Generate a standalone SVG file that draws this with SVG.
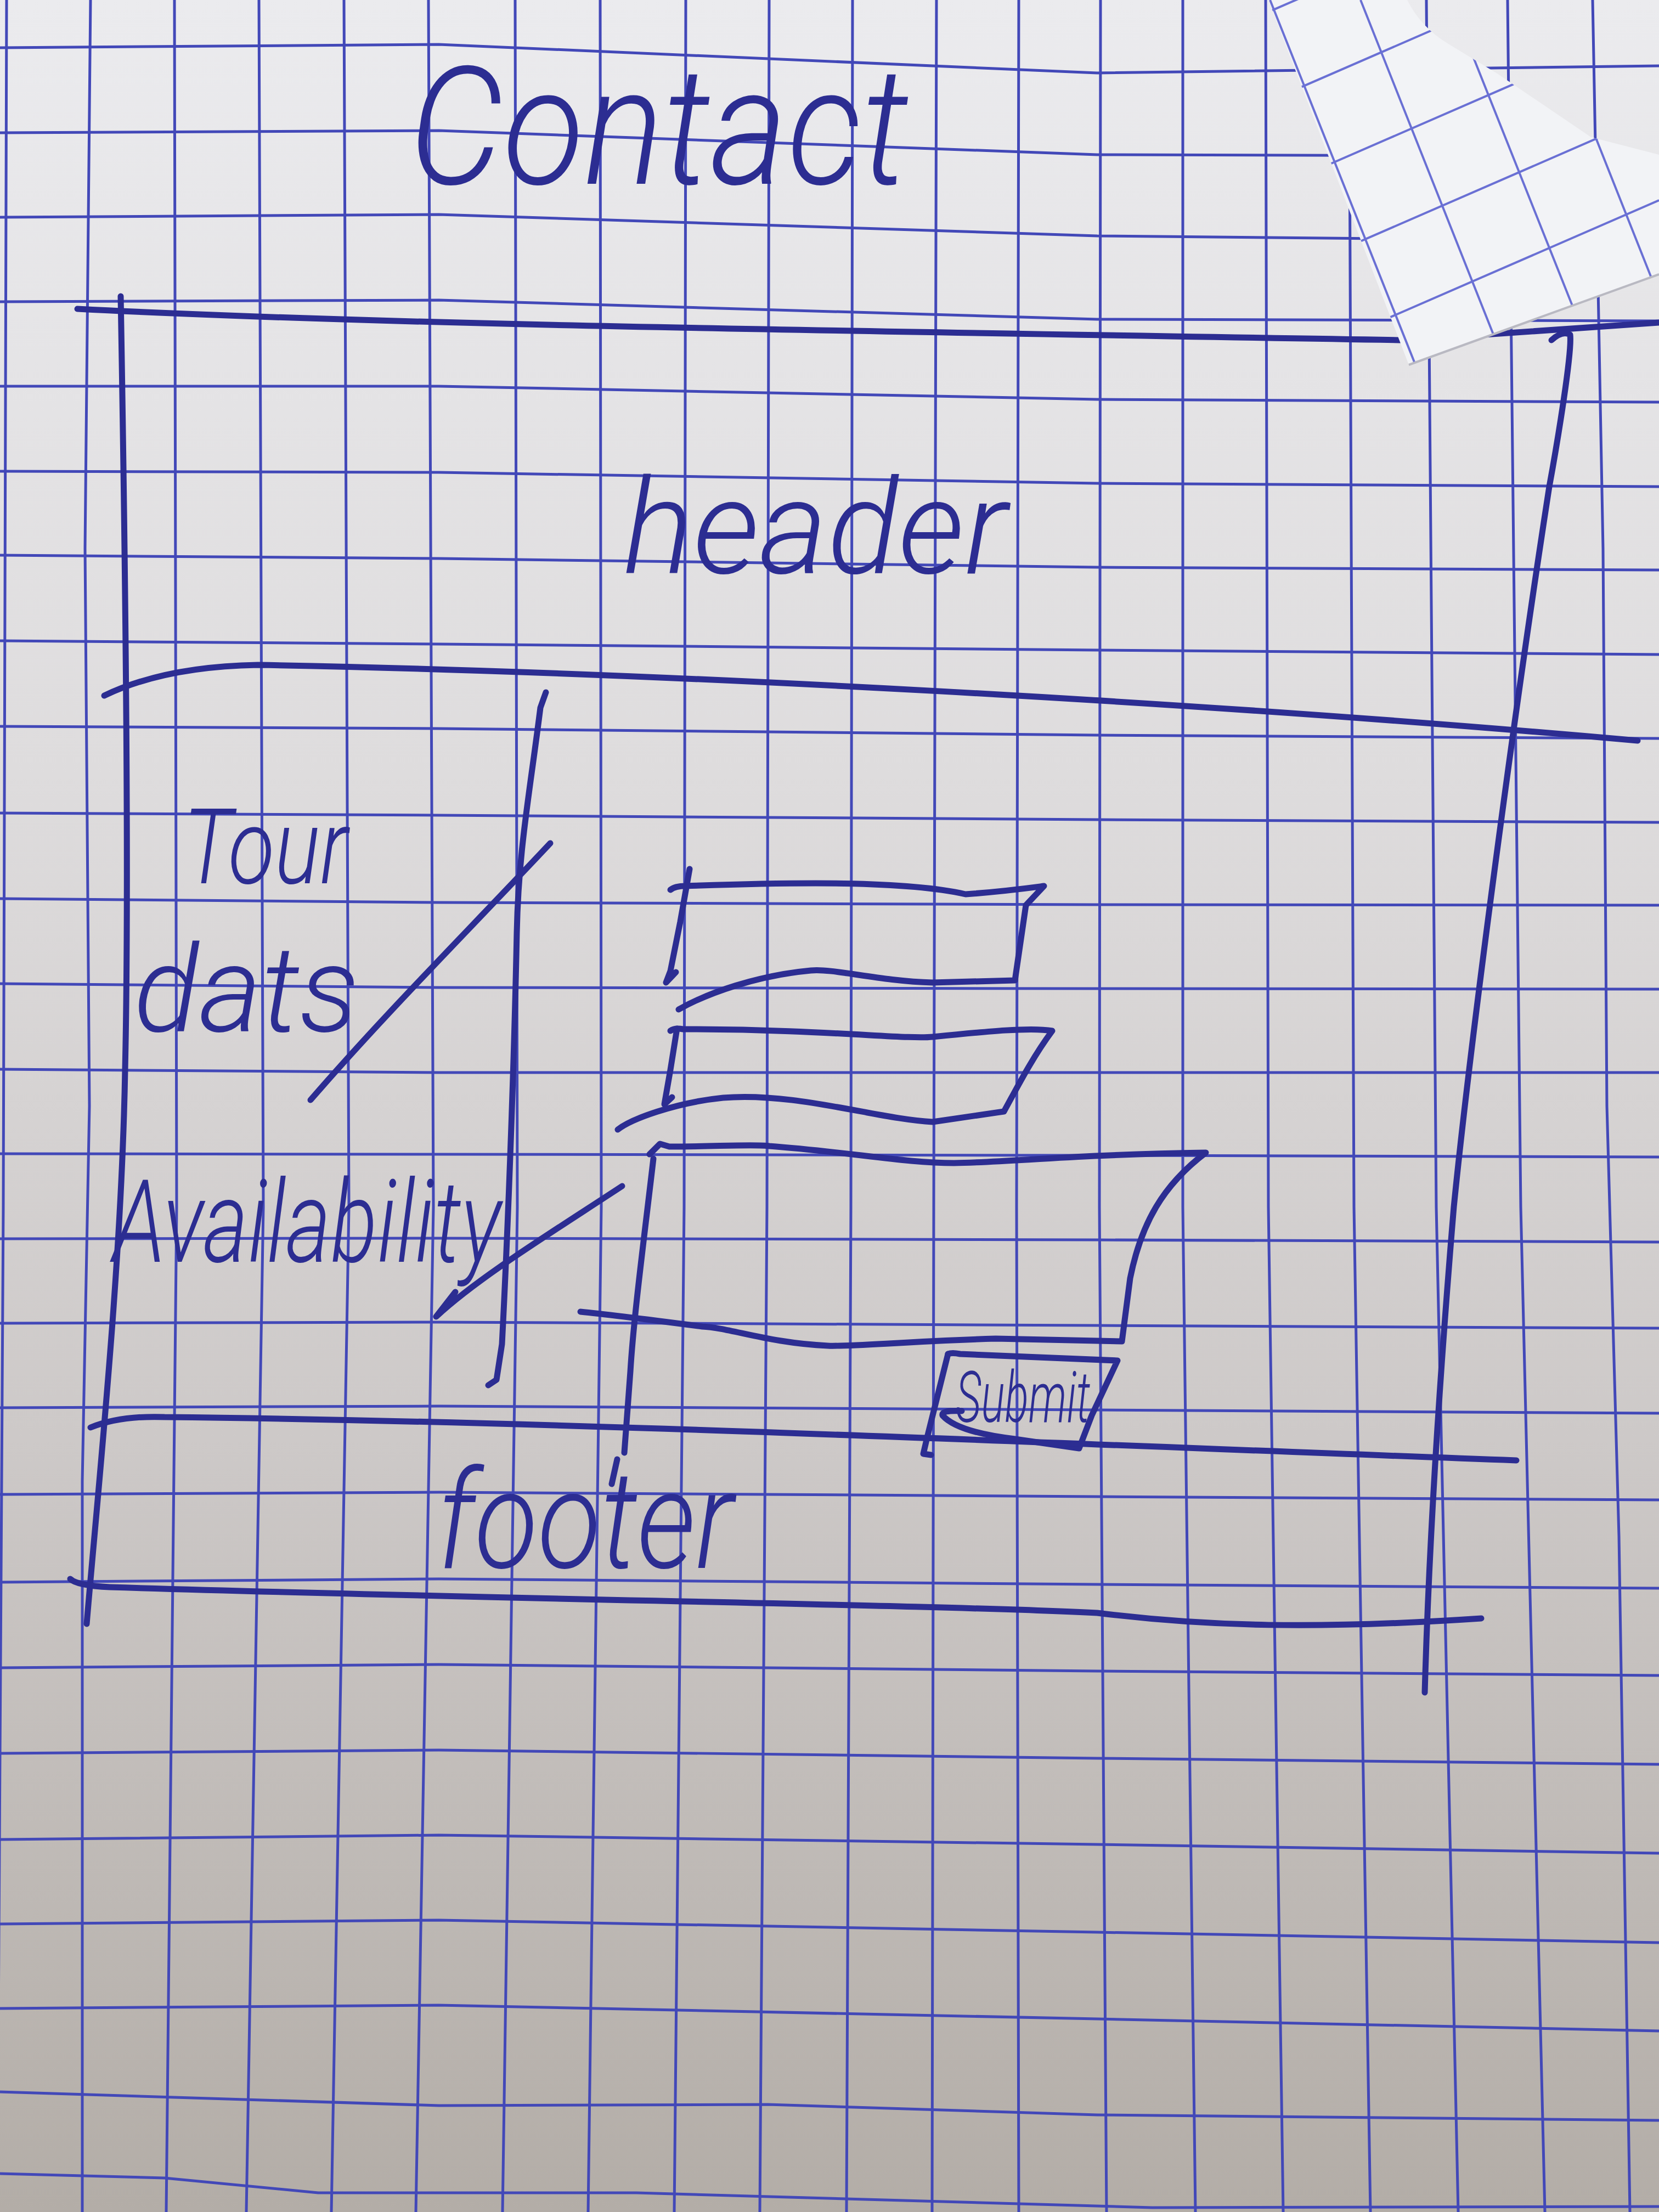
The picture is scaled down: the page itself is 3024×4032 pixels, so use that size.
<svg xmlns="http://www.w3.org/2000/svg" width="3024" height="4032" viewBox="0 0 3024 4032">
<defs>
<linearGradient id="paperGrad" x1="0" y1="0" x2="0" y2="1">
<stop offset="0" stop-color="#ebebee"/>
<stop offset="0.35" stop-color="#dedcdd"/>
<stop offset="0.65" stop-color="#cdc9c8"/>
<stop offset="1" stop-color="#b3ada7"/>
</linearGradient>
<clipPath id="flapClip">
<path d="M2312,0 L2565,0 Q2590,50 2640,80 L2729,134 L2900,250 L3024,282 L3024,500 L2568,665 Z"/>
</clipPath>
<style>
.grid{fill:none;stroke:#4248b8;stroke-width:5}
.flapgrid{fill:none;stroke:#6a70d4;stroke-width:4}
.ink{fill:none;stroke:#2c2d92;stroke-width:11;stroke-linecap:round;stroke-linejoin:round}
.hand{font-family:Roboto,"Liberation Sans",sans-serif;font-style:italic;font-weight:300;fill:#2c2d92}
</style>
</defs>

<g id="paper">
<rect x="0" y="0" width="3024" height="4032" fill="url(#paperGrad)"/>
</g>

<g id="grid">
<path class="grid" d="M0,87 L800,81 L2000,133 L3024,120
M0,242 L800,238 L2000,282 L3024,285
M0,396 L800,391 L2000,430 L3024,440
M0,550 L800,547 L2000,582 L3024,585
M0,704 L800,704 L2000,728 L3024,733
M0,859 L800,861 L2000,881 L3024,887
M0,1012 L800,1018 L2000,1034 L3024,1039
M0,1168 L800,1174 L2000,1185 L3024,1193
M0,1324 L800,1328 L2000,1340 L3024,1346
M0,1482 L800,1486 L2000,1494 L3024,1499
M0,1638 L800,1645 L2000,1649 L3024,1650
M0,1793 L800,1800 L2000,1802 L3024,1803
M0,1949 L800,1955 L2000,1955 L3024,1955
M0,2103 L800,2104 L2000,2106 L3024,2109
M0,2258 L800,2257 L2000,2260 L3024,2264
M0,2412 L800,2410 L2000,2416 L3024,2421
M0,2566 L800,2563 L2000,2570 L3024,2576
M0,2724 L800,2720 L2000,2728 L3024,2734
M0,2884 L800,2878 L2000,2888 L3024,2895
M0,3040 L800,3034 L2000,3046 L3024,3054
M0,3196 L800,3190 L2000,3205 L3024,3216
M0,3353 L800,3345 L2000,3362 L3024,3378
M0,3507 L800,3500 L2000,3522 L3024,3541
M0,3661 L800,3655 L2000,3680 L3024,3702
M0,3813 L800,3838 L1400,3836 L2000,3855 L3024,3865
M0,3962 L300,3970 L580,3997 L1160,3997 L2100,4024 L3024,4022"/>
<path class="grid" d="M12,0 L6,2200 L-5,4032
M165,0 L155,1000 L163,2016 L150,2700 L150,4032
M318,0 L322,2200 L303,4032
M472,0 L480,2200 L449,4032
M627,0 L636,2200 L604,4032
M781,0 L790,2200 L758,4032
M939,0 L943,2200 L916,4032
M1094,0 L1096,2200 L1072,4032
M1250,0 L1247,2200 L1229,4032
M1402,0 L1398,2200 L1385,4032
M1554,0 L1551,2200 L1543,4032
M1707,0 L1702,2200 L1699,4032
M1857,0 L1853,2200 L1857,4032
M2006,0 L2004,2200 L2017,4032
M2156,0 L2156,2200 L2179,4032
M2307,0 L2312,2200 L2339,4032
M2459,0 L2468,2200 L2498,4032
M2600,0 L2618,2200 L2658,4032
M2748,0 L2772,2200 L2816,4032
M2903,0 L2922,1000 L2929,2016 L2951,2800 L2971,4032"/>
</g>

<g id="page-frame">
<path class="ink" d="M141,563 C700,592 1500,602 2560,620 L3024,588"/>
<path class="ink" d="M220,540 C228,1000 236,1600 228,1950 C222,2300 180,2700 158,2960"/>
<path class="ink" d="M2828,620 Q2848,602 2862,610 C2866,640 2840,800 2824,887 C2760,1300 2680,1900 2650,2200 C2625,2500 2605,2800 2597,3085"/>
<path class="ink" d="M128,2878 Q140,2890 200,2893 C900,2915 1700,2925 2000,2940 C2200,2965 2400,2970 2700,2950"/>
</g>

<g id="flap">
<path d="M2312,0 L2565,0 Q2590,50 2640,80 L2729,134 L2900,250 L3024,282 L3024,500 L2568,665 Z" fill="#f2f3f6"/>
<g clip-path="url(#flapClip)">
<path class="flapgrid" d="M2315,0 L2594,700 M2480,0 L2758,700 M2644,0 L2923,700 M2809,0 L3087,700 M2973,0 L3252,700
M2300,27 L3024,-288 M2300,190 L3024,-125 M2300,353 L3024,38 M2300,518 L3024,203 M2300,680 L3024,365 M2300,843 L3024,528"/>
</g>
<path d="M2568,665 L3024,500" fill="none" stroke="#b9b9c2" stroke-width="4"/>
</g>

<g id="title">
<text class="hand" x="746" y="335" font-size="300" textLength="910" lengthAdjust="spacingAndGlyphs">Contact</text>
</g>

<g id="header">
<path class="ink" d="M190,1268 Q300,1215 470,1212 C1200,1225 2200,1280 2985,1350"/>
<text class="hand" x="1136" y="1045" font-size="240" textLength="700" lengthAdjust="spacingAndGlyphs">header</text>
</g>

<g id="sidebar">
<path class="ink" d="M995,1262 L985,1290 C965,1450 945,1550 942,1700 C938,1900 928,2200 915,2450 L905,2515 L890,2525"/>
<text class="hand" x="334" y="1610" font-size="190" textLength="300" lengthAdjust="spacingAndGlyphs">Tour</text>
<text class="hand" x="244" y="1880" font-size="220" textLength="410" lengthAdjust="spacingAndGlyphs">dats</text>
<text class="hand" x="206" y="2300" font-size="210" textLength="707" lengthAdjust="spacingAndGlyphs">Availability</text>
</g>

<g id="field-1">
<path class="ink" d="M1257,1584 L1240,1680 L1222,1770 L1214,1791 L1232,1772"/>
<path class="ink" d="M1222,1622 Q1230,1615 1250,1615 C1450,1608 1650,1605 1760,1630 C1830,1625 1880,1618 1903,1615 L1870,1650 L1850,1787 L1700,1791 C1600,1788 1520,1765 1478,1769 C1380,1778 1290,1810 1237,1840"/>
</g>

<g id="field-2">
<path class="ink" d="M1234,1875 L1222,1950 L1211,2013 L1225,2000"/>
<path class="ink" d="M1222,1879 Q1230,1873 1245,1876 C1500,1876 1650,1895 1700,1890 C1800,1880 1880,1872 1918,1879 C1880,1930 1850,1990 1830,2026 L1700,2045 C1600,2040 1450,1990 1318,2001 C1230,2010 1150,2040 1126,2059"/>
</g>

<g id="message">
<path class="ink" d="M1184,2104 L1203,2085 L1220,2090 C1300,2090 1380,2085 1402,2089 C1550,2100 1650,2120 1739,2120 C1850,2118 1950,2105 2198,2101 C2120,2160 2080,2230 2060,2330 L2045,2445 L1815,2440 C1650,2445 1550,2455 1509,2453 C1400,2448 1330,2420 1280,2418 C1180,2405 1100,2395 1058,2391"/>
<path class="ink" d="M1191,2112 C1175,2250 1155,2400 1149,2500 L1138,2648 M1125,2660 L1115,2705"/>
</g>

<g id="submit">
<path class="ink" d="M1728,2468 L1690,2620 L1683,2650 L1697,2652"/>
<path class="ink" d="M1728,2468 Q1735,2465 1750,2468 L2037,2480 L1990,2580 L1967,2640 L1850,2623 C1800,2617 1740,2605 1718,2580 Q1715,2570 1753,2572"/>
<text class="hand" x="1742" y="2592" font-size="130" textLength="245" lengthAdjust="spacingAndGlyphs">Submit</text>
</g>

<g id="footer">
<path class="ink" d="M165,2602 Q220,2580 300,2583 C1000,2590 1900,2630 2764,2662"/>
<text class="hand" x="797" y="2858" font-size="250" textLength="540" lengthAdjust="spacingAndGlyphs">footer</text>
</g>

<g id="connectors">
<path class="ink" d="M1003,1537 C850,1700 700,1850 566,2005"/>
<path class="ink" d="M1134,2162 C1000,2250 870,2330 795,2400 L830,2355"/>
</g>
</svg>
